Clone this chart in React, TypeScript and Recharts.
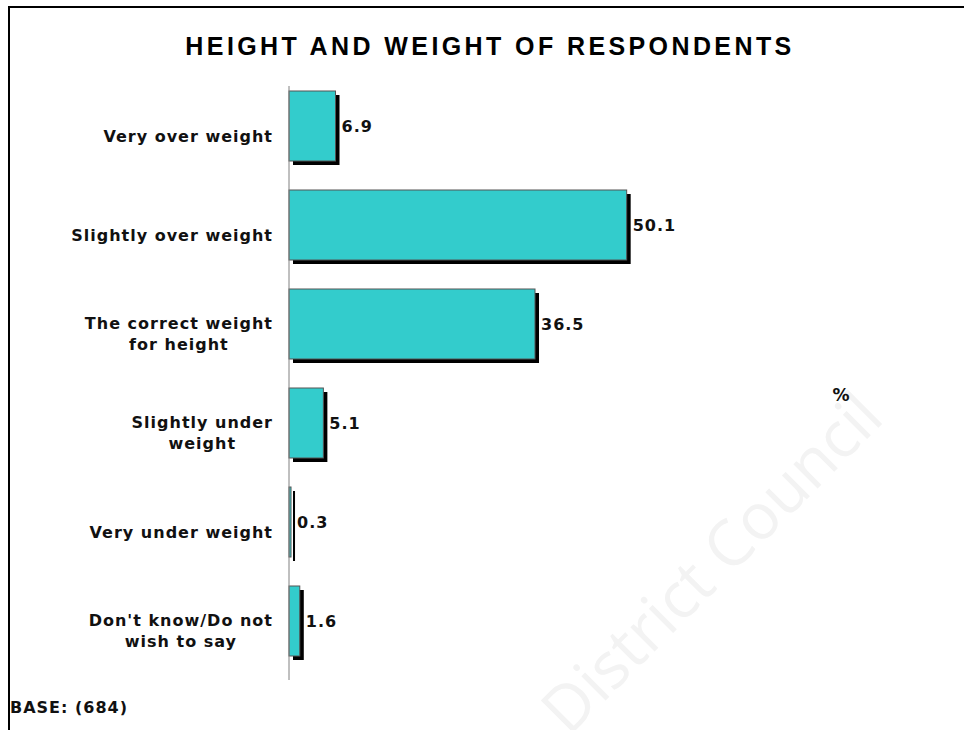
import React, { useLayoutEffect, useRef, useState } from "react";
import { BarChart, Bar, XAxis, YAxis, LabelList } from "recharts";

const categories = [
  "Very over weight",
  "Slightly over weight",
  "The correct weight\nfor height",
  "Slightly under\nweight",
  "Very under weight",
  "Don't know/Do not\nwish to say",
];
const percentages = [6.9, 50.1, 36.5, 5.1, 0.3, 1.6];

const chartTitle = "HEIGHT AND WEIGHT OF RESPONDENTS";
const baseNote = "BASE: (684)";
const unitLabel = "%";
const watermark = "District Council";

const data = categories.map((name, i) => ({ name, value: percentages[i] }));

const W = 964;
const H = 730;
const BAR_LIFT = 10;
const LABEL_FONT = "'DejaVu Sans', Verdana, sans-serif";

// multi-line category label: lines centred on each other, block right-aligned
const CategoryTick = (props: any) => {
  const { y, payload } = props;
  const lines: string[] = String(payload.value).split("\n");
  const ref = useRef<SVGGElement>(null);
  const [blockW, setBlockW] = useState(160);
  useLayoutEffect(() => {
    if (!ref.current) return;
    const texts = Array.from(ref.current.querySelectorAll("text")) as SVGTextElement[];
    const w = Math.max(...texts.map((t) => t.getComputedTextLength()));
    if (Math.abs(w - blockW) > 0.5) setBlockW(w);
  });
  const right = 273;
  const cx = right - blockW / 2;
  const lh = 21;
  const y0 = y - ((lines.length - 1) * lh) / 2 + 6;
  return (
    <g ref={ref}>
      {lines.map((ln, i) => (
        <text
          key={i}
          x={cx}
          y={y0 + i * lh}
          textAnchor="middle"
          fontFamily={LABEL_FONT}
          fontWeight="bold"
          fontSize={16}
          letterSpacing={1}
          fill="#111"
        >
          {ln}
        </text>
      ))}
    </g>
  );
};

const ShadowBar = (props: any) => {
  const { x, y, width, height } = props;
  if (width == null || height == null) return null;
  const top = y - BAR_LIFT;
  return (
    <g>
      <rect x={x + 4} y={top + 4} width={Math.max(width, 1)} height={height} fill="#000" />
      <rect
        x={x}
        y={top}
        width={Math.max(width, 1)}
        height={height}
        fill="#33CCCC"
        stroke="#555"
        strokeWidth={1}
      />
    </g>
  );
};

const ValueLabel = (props: any) => {
  const { x, y, width, height, value } = props;
  return (
    <text
      x={x + width + 6}
      y={y - BAR_LIFT + height / 2 + 6}
      fontFamily={LABEL_FONT}
      fontWeight="bold"
      fontSize={16}
      letterSpacing={1}
      fill="#111"
    >
      {value}
    </text>
  );
};

export default function App() {
  return (
    <div style={{ position: "absolute", left: 0, top: 0, width: W, height: H, background: "#fff", overflow: "hidden" }}>
      <svg width={W} height={H} style={{ position: "absolute", left: 0, top: 0 }}>
        <text
          x={886}
          y={420}
          textAnchor="end"
          transform="rotate(-45 886 420)"
          fontFamily="'Open Sans', sans-serif"
          fontSize={64}
          fill="#f3f3f3"
        >
          {watermark}
        </text>
        <path d={`M9 ${H} L9 7 L${W} 7`} fill="none" stroke="#000" strokeWidth={2} />
        <text
          x={490}
          y={55}
          textAnchor="middle"
          fontFamily="'Liberation Sans', Arial, sans-serif"
          fontWeight="bold"
          fontSize={25}
          letterSpacing={3.4}
          fill="#000"
        >
          {chartTitle}
        </text>
        <text
          x={10}
          y={713}
          fontFamily={LABEL_FONT}
          fontWeight="bold"
          fontSize={16}
          letterSpacing={1}
          fill="#111"
        >
          {baseNote}
        </text>
        <text
          x={841}
          y={401}
          textAnchor="middle"
          fontFamily={LABEL_FONT}
          fontWeight="bold"
          fontSize={17}
          fill="#111"
        >
          {unitLabel}
        </text>
      </svg>
      <div style={{ position: "absolute", left: 0, top: 0 }}>
        <BarChart
          width={W}
          height={H}
          data={data}
          layout="vertical"
          margin={{ top: 86, right: 1, bottom: 50, left: 0 }}
          barSize={70}
        >
          <XAxis type="number" domain={[0, 100]} hide />
          <YAxis
            type="category"
            dataKey="name"
            width={289}
            axisLine={{ stroke: "#808080", strokeWidth: 1 }}
            tickLine={false}
            tick={<CategoryTick />}
            interval={0}
          />
          <Bar dataKey="value" shape={<ShadowBar />} isAnimationActive={false}>
            <LabelList dataKey="value" content={<ValueLabel />} />
          </Bar>
        </BarChart>
      </div>
    </div>
  );
}
